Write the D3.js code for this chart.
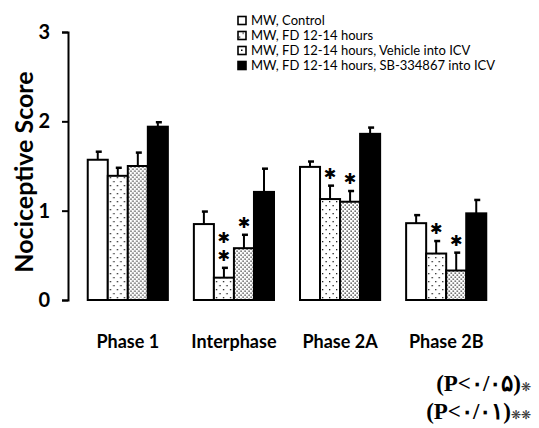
<!DOCTYPE html>
<html>
<head>
<meta charset="utf-8">
<script src="https://cdn.jsdelivr.net/npm/d3@7"></script>
<style>
  body { margin: 0; background: #fff; }
  svg { display: block; }
</style>
</head>
<body>
<svg></svg>
<script>
let width = 539
let height = 428

// data
let groups = ['Phase 1', 'Interphase', 'Phase 2A', 'Phase 2B']
let seriesNames = [
  'MW, Control',
  'MW, FD 12-14 hours',
  'MW, FD 12-14 hours, Vehicle into ICV',
  'MW, FD 12-14 hours, SB-334867 into ICV'
]
let control = [1.57, 0.85, 1.49, 0.86]
let controlErr = [0.09, 0.14, 0.06, 0.09]
let fd = [1.39, 0.25, 1.13, 0.52]
let fdErr = [0.09, 0.11, 0.15, 0.14]
let vehicle = [1.50, 0.58, 1.10, 0.33]
let vehicleErr = [0.15, 0.15, 0.12, 0.20]
let sb = [1.94, 1.21, 1.86, 0.97]
let sbErr = [0.05, 0.26, 0.07, 0.15]
let fdSig = ['', '**', '*', '*']
let vehicleSig = ['', '*', '*', '*']
let noSig = ['', '', '', '']
let yTicks = [0, 1, 2, 3]
let footnotes = [['(P<۰/۰۵)', '❋'], ['(P<۰/۰۱)', '❋❋']]

let series = [
  { name: seriesNames[0], values: control, errs: controlErr, sig: noSig, fill: '#fff' },
  { name: seriesNames[1], values: fd, errs: fdErr, sig: fdSig, fill: 'url(#sparseDots)' },
  { name: seriesNames[2], values: vehicle, errs: vehicleErr, sig: vehicleSig, fill: 'url(#denseDots)' },
  { name: seriesNames[3], values: sb, errs: sbErr, sig: noSig, fill: '#000' }
]

let svg = d3.select('svg')
  .attr('width', width)
  .attr('height', height)

// fill patterns
let defs = svg.append('defs')
let sparse = defs.append('pattern')
  .attr('id', 'sparseDots')
  .attr('patternUnits', 'userSpaceOnUse')
  .attr('width', 7)
  .attr('height', 8)
sparse.append('rect').attr('width', 7).attr('height', 8).attr('fill', '#fff')
sparse.append('rect').attr('x', 1).attr('y', 1).attr('width', 1.3).attr('height', 1.3).attr('fill', '#222')
sparse.append('rect').attr('x', 4.5).attr('y', 5).attr('width', 1.3).attr('height', 1.3).attr('fill', '#222')

let dense = defs.append('pattern')
  .attr('id', 'denseDots')
  .attr('patternUnits', 'userSpaceOnUse')
  .attr('width', 4)
  .attr('height', 4)
dense.append('rect').attr('width', 4).attr('height', 4).attr('fill', '#fff')
dense.append('rect').attr('x', 0.5).attr('y', 0.5).attr('width', 1.3).attr('height', 1.3).attr('fill', '#222')
dense.append('rect').attr('x', 2.5).attr('y', 2.5).attr('width', 1.3).attr('height', 1.3).attr('fill', '#222')

let yScale = d3.scaleLinear()
  .domain([0, 3])
  .range([300, 32])

let xScale = d3.scaleBand()
  .domain(groups)
  .range([75, 499])
  .paddingInner(0.245)
  .paddingOuter(0.12)

let xInner = d3.scaleBand()
  .domain(seriesNames)
  .range([0, xScale.bandwidth()])

// y axis
let yAxis = d3.axisLeft(yScale)
  .tickValues(yTicks)
  .tickFormat(d3.format('d'))
  .tickSize(6)
  .tickSizeOuter(6)
  .tickPadding(12)

let yG = svg.append('g')
  .attr('transform', 'translate(68, 0)')
  .call(yAxis)
yG.select('.domain').attr('stroke', '#000').attr('stroke-width', 2)
yG.selectAll('.tick line').attr('stroke', '#000').attr('stroke-width', 2)
yG.selectAll('.tick text')
  .style('font-family', 'Lato, sans-serif')
  .style('font-weight', 'bold')
  .style('font-size', '20px')
  .attr('fill', '#000')

// bars
let groupG = svg.selectAll('.group')
  .data(groups)
  .enter()
  .append('g')
    .attr('class', 'group')
    .attr('transform', d => `translate(${xScale(d)}, 0)`)

series.forEach(s => {
  let cx = xInner(s.name) + xInner.bandwidth() / 2

  groupG.append('rect')
    .attr('x', xInner(s.name))
    .attr('y', (d, i) => yScale(s.values[i]))
    .attr('width', xInner.bandwidth())
    .attr('height', (d, i) => yScale(0) - yScale(s.values[i]))
    .attr('fill', s.fill)
    .attr('stroke', '#000')
    .attr('stroke-width', 2)

  // error bars
  groupG.append('line')
    .attr('x1', cx)
    .attr('x2', cx)
    .attr('y1', (d, i) => yScale(s.values[i]))
    .attr('y2', (d, i) => yScale(s.values[i] + s.errs[i]))
    .attr('stroke', '#000')
    .attr('stroke-width', 2)
  groupG.append('line')
    .attr('x1', cx - 2)
    .attr('x2', cx + 4)
    .attr('y1', (d, i) => yScale(s.values[i] + s.errs[i]))
    .attr('y2', (d, i) => yScale(s.values[i] + s.errs[i]))
    .attr('stroke', '#000')
    .attr('stroke-width', 2.5)

  // significance stars, stacked upward from the cap
  groupG.filter((d, i) => s.sig[i].length > 0)
    .append('text')
      .style('text-anchor', 'middle')
      .style('font-family', 'DejaVu Sans, sans-serif')
      .style('font-size', '15px')
      .attr('fill', '#000')
    .each(function (d) {
      let i = groups.indexOf(d)
      let n = s.sig[i].length
      let top = yScale(s.values[i] + s.errs[i]) - 12 - (n - 1) * 18
      for (let k = 0; k < n; k++) {
        d3.select(this).append('tspan')
          .attr('x', cx)
          .attr('y', top + k * 18)
          .attr('dy', '0.35em')
          .text('✱')
      }
    })
})

// x labels
svg.append('g')
  .selectAll('text')
  .data(groups)
  .enter()
  .append('text')
    .attr('x', d => xScale(d) + xScale.bandwidth() / 2)
    .attr('y', 342)
    .attr('dy', '0.35em')
    .style('text-anchor', 'middle')
    .style('font-family', 'Lato, sans-serif')
    .style('font-weight', 'bold')
    .style('font-size', '18px')
    .text(d => d)

// y-axis label
svg.append('text')
  .attr('transform', 'translate(24, 172) rotate(-90)')
  .attr('dy', '0.35em')
  .style('text-anchor', 'middle')
  .style('font-family', 'Lato, sans-serif')
  .style('font-weight', 'bold')
  .style('font-size', '25px')
  .text('Nociceptive Score')

// legend
let legend = svg.append('g')
  .selectAll('g')
  .data(series)
  .enter()
  .append('g')
    .attr('transform', (d, i) => `translate(238, ${20.5 + i * 15})`)
legend.append('rect')
  .attr('x', 0)
  .attr('y', -4)
  .attr('width', 8)
  .attr('height', 8)
  .attr('fill', (d, i) => i === 2 ? '#fff' : d.fill)
  .attr('stroke', '#000')
  .attr('stroke-width', 1.6)
legend.filter((d, i) => i === 2)
  .append('rect')
    .attr('x', 3)
    .attr('y', -1)
    .attr('width', 1.5)
    .attr('height', 1.5)
    .attr('fill', '#000')
legend.append('text')
  .attr('x', 13)
  .attr('y', 0)
  .attr('dy', '0.35em')
  .style('font-family', 'Lato, sans-serif')
  .style('font-size', '13px')
  .text(d => d.name)

// footnotes
let foot = svg.append('g')
  .selectAll('text')
  .data(footnotes)
  .enter()
  .append('text')
    .attr('x', 531)
    .attr('y', (d, i) => 383 + i * 28)
    .attr('dy', '0.35em')
    .attr('direction', 'ltr')
    .style('text-anchor', 'end')
    .style('font-family', 'Liberation Serif, serif')
    .style('font-weight', 'bold')
    .style('font-size', '23px')
foot.append('tspan').text(d => d[0])
foot.append('tspan')
  .style('font-size', '12px')
  .style('font-weight', 'normal')
  .attr('fill', '#333')
  .text(d => d[1])
</script>
</body>
</html>
